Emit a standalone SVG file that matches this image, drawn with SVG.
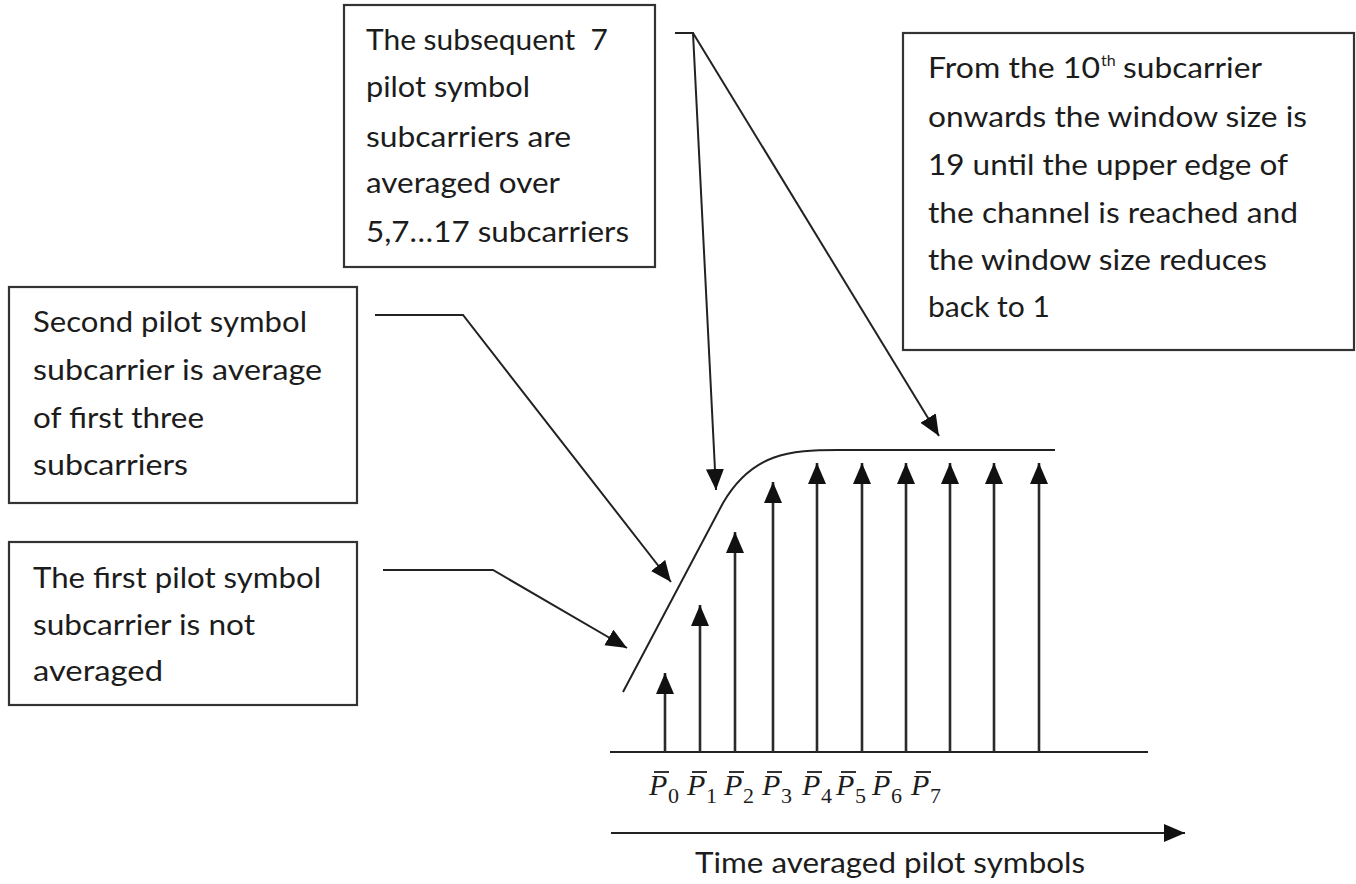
<svg xmlns="http://www.w3.org/2000/svg" width="1356" height="884" viewBox="0 0 1356 884">
<style>
.box{fill:#fff;stroke:#333;stroke-width:2.2}
.t{font-family:Lato,"Open Sans","Liberation Sans",sans-serif;font-size:29px;fill:#1c1c1c}
.ln{fill:none;stroke:#222;stroke-width:2}
.va{fill:none;stroke:#2a2a2a;stroke-width:2.6}
.pl{font-family:"Liberation Serif","DejaVu Serif",serif;font-style:italic;font-size:30px;fill:#1c1c1c}
.sub{font-family:"Liberation Serif","DejaVu Serif",serif;font-size:22px;fill:#1c1c1c}
.ob{stroke:#1c1c1c;stroke-width:1.8}
</style>
<defs>
<marker id="ah" markerUnits="userSpaceOnUse" markerWidth="22" markerHeight="20" refX="21" refY="9" orient="auto">
<path d="M0,0 L21,9 L0,18 z" fill="#111"/>
</marker>
</defs>
<rect width="1356" height="884" fill="#fff"/>

<g id="node-subsequent">
<rect class="box" x="344" y="5" width="311" height="262"/>
<text class="t" x="366" y="50" textLength="242" lengthAdjust="spacingAndGlyphs" xml:space="preserve">The subsequent  7</text>
<text class="t" x="366" y="97" textLength="164" lengthAdjust="spacingAndGlyphs">pilot symbol</text>
<text class="t" x="366" y="147" textLength="205" lengthAdjust="spacingAndGlyphs">subcarriers are</text>
<text class="t" x="366" y="193" textLength="194" lengthAdjust="spacingAndGlyphs">averaged over</text>
<text class="t" x="366" y="242" textLength="263" lengthAdjust="spacingAndGlyphs">5,7…17 subcarriers</text>
</g>

<g id="node-tenth">
<rect class="box" x="903" y="33" width="451" height="317"/>
<text class="t" y="78"><tspan x="928" textLength="172" lengthAdjust="spacingAndGlyphs">From the 10</tspan><tspan x="1101" dy="-12" font-size="16">th</tspan><tspan x="1123" dy="12" textLength="139" lengthAdjust="spacingAndGlyphs">subcarrier</tspan></text>
<text class="t" x="928" y="127" textLength="379" lengthAdjust="spacingAndGlyphs">onwards the window size is</text>
<text class="t" x="928" y="175" textLength="360" lengthAdjust="spacingAndGlyphs">19 until the upper edge of</text>
<text class="t" x="928" y="223" textLength="370" lengthAdjust="spacingAndGlyphs">the channel is reached and</text>
<text class="t" x="928" y="270" textLength="339" lengthAdjust="spacingAndGlyphs">the window size reduces</text>
<text class="t" x="928" y="317" textLength="122" lengthAdjust="spacingAndGlyphs">back to 1</text>
</g>

<g id="node-second">
<rect class="box" x="9" y="287" width="348" height="216"/>
<text class="t" x="33" y="332" textLength="274" lengthAdjust="spacingAndGlyphs">Second pilot symbol</text>
<text class="t" x="33" y="380" textLength="289" lengthAdjust="spacingAndGlyphs">subcarrier is average</text>
<text class="t" x="33" y="428" textLength="171" lengthAdjust="spacingAndGlyphs">of first three</text>
<text class="t" x="33" y="475" textLength="155" lengthAdjust="spacingAndGlyphs">subcarriers</text>
</g>

<g id="node-first">
<rect class="box" x="9" y="542" width="348" height="163"/>
<text class="t" x="33" y="588" textLength="288" lengthAdjust="spacingAndGlyphs">The first pilot symbol</text>
<text class="t" x="33" y="635" textLength="222" lengthAdjust="spacingAndGlyphs">subcarrier is not</text>
<text class="t" x="33" y="681" textLength="130" lengthAdjust="spacingAndGlyphs">averaged</text>
</g>

<g id="node-plot">
<path class="ln" d="M623,692 L723,503 C752,453 790,450 838,450 L1055,450"/>
<line class="ln" x1="610" y1="752" x2="1148" y2="752"/>
<line class="va" x1="665" y1="752" x2="665" y2="673" marker-end="url(#ah)"/>
<line class="va" x1="700" y1="752" x2="700" y2="605" marker-end="url(#ah)"/>
<line class="va" x1="735" y1="752" x2="735" y2="532" marker-end="url(#ah)"/>
<line class="va" x1="773" y1="752" x2="773" y2="482" marker-end="url(#ah)"/>
<line class="va" x1="817" y1="752" x2="817" y2="463" marker-end="url(#ah)"/>
<line class="va" x1="862" y1="752" x2="862" y2="463" marker-end="url(#ah)"/>
<line class="va" x1="906" y1="752" x2="906" y2="463" marker-end="url(#ah)"/>
<line class="va" x1="950" y1="752" x2="950" y2="463" marker-end="url(#ah)"/>
<line class="va" x1="994" y1="752" x2="994" y2="463" marker-end="url(#ah)"/>
<line class="va" x1="1039" y1="752" x2="1039" y2="463" marker-end="url(#ah)"/>
</g>

<g id="node-labels">
<text class="pl" x="649" y="795">P</text><text class="sub" x="668" y="803">0</text><line class="ob" x1="654" y1="772" x2="669" y2="772"/>
<text class="pl" x="687" y="795">P</text><text class="sub" x="706" y="803">1</text><line class="ob" x1="692" y1="772" x2="707" y2="772"/>
<text class="pl" x="724" y="795">P</text><text class="sub" x="743" y="803">2</text><line class="ob" x1="729" y1="772" x2="744" y2="772"/>
<text class="pl" x="762" y="795">P</text><text class="sub" x="781" y="803">3</text><line class="ob" x1="767" y1="772" x2="782" y2="772"/>
<text class="pl" x="802" y="795">P</text><text class="sub" x="821" y="803">4</text><line class="ob" x1="807" y1="772" x2="822" y2="772"/>
<text class="pl" x="836" y="795">P</text><text class="sub" x="855" y="803">5</text><line class="ob" x1="841" y1="772" x2="856" y2="772"/>
<text class="pl" x="872" y="795">P</text><text class="sub" x="891" y="803">6</text><line class="ob" x1="877" y1="772" x2="892" y2="772"/>
<text class="pl" x="911" y="795">P</text><text class="sub" x="930" y="803">7</text><line class="ob" x1="916" y1="772" x2="931" y2="772"/>
</g>

<g id="node-axis">
<line class="ln" x1="611" y1="833" x2="1185" y2="833" marker-end="url(#ah)"/>
<text class="t" x="695" y="873" font-size="30" textLength="390" lengthAdjust="spacingAndGlyphs">Time averaged pilot symbols</text>
</g>

<g id="connectors">
<polyline class="ln" points="383,570 493,570 627,648" marker-end="url(#ah)"/>
<polyline class="ln" points="375,315 463,315 671,582" marker-end="url(#ah)"/>
<polyline class="ln" points="675,33 693,33 716,490" marker-end="url(#ah)"/>
<line class="ln" x1="693" y1="33" x2="939" y2="436" marker-end="url(#ah)"/>
</g>
</svg>
